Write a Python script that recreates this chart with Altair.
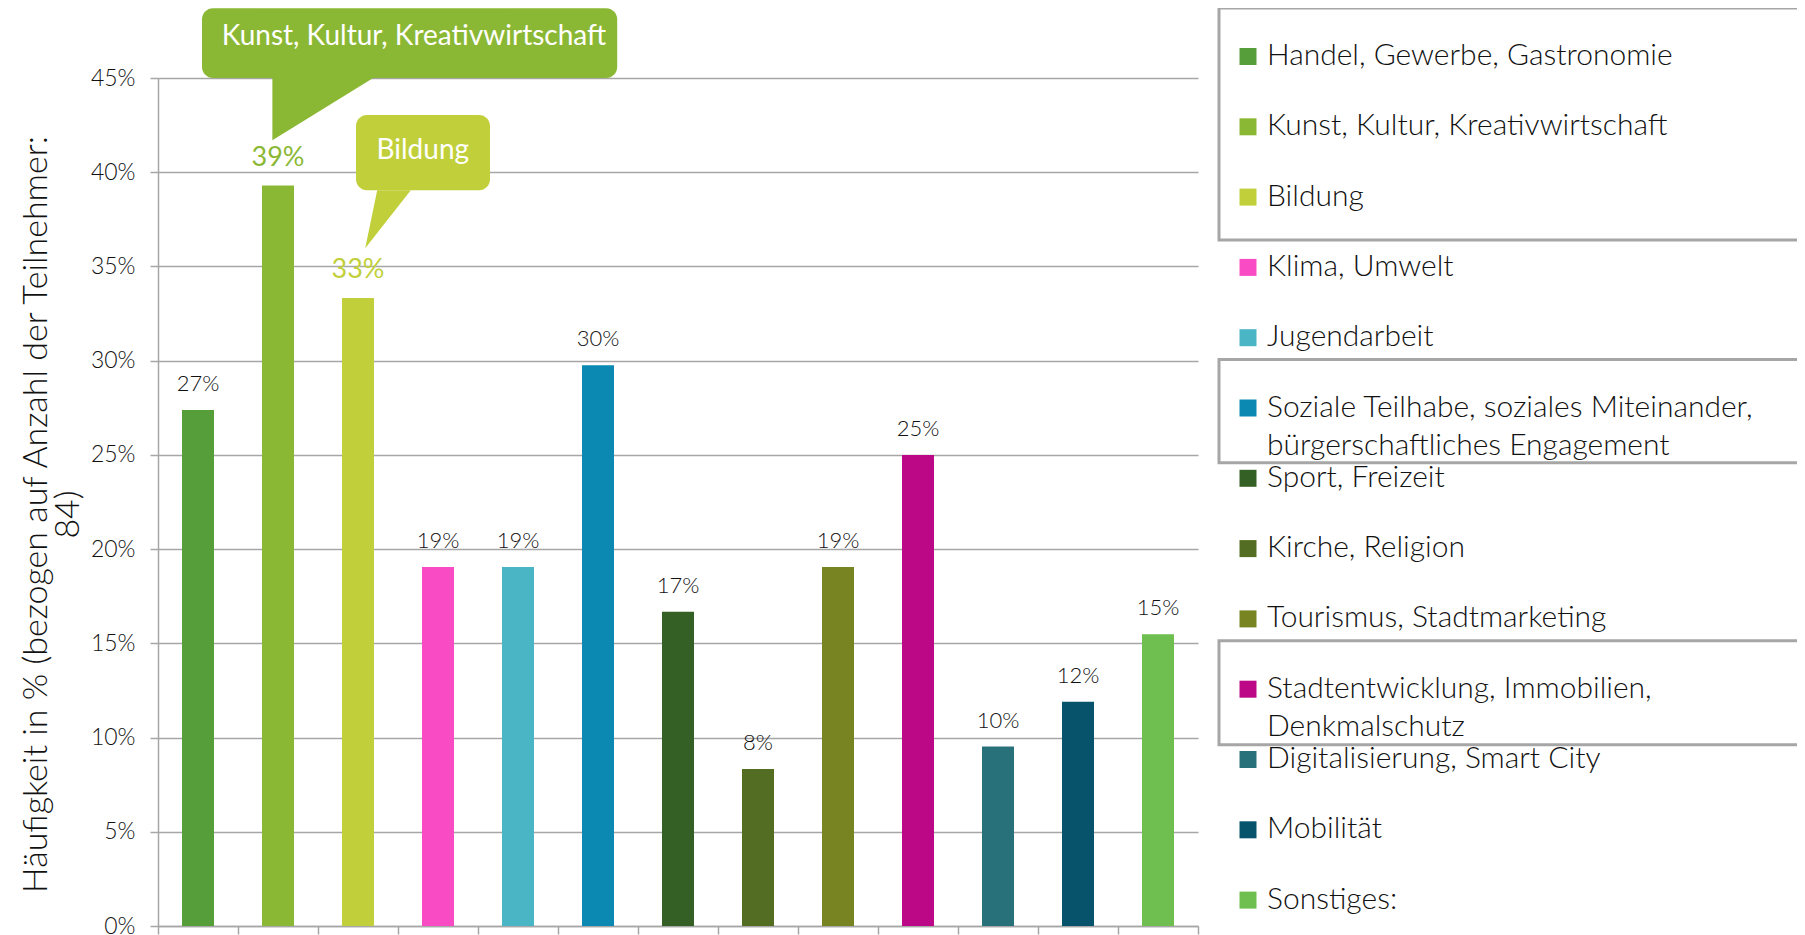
import altair as alt
import pandas as pd

# ---------------- data ----------------
categories = [
    "Handel, Gewerbe, Gastronomie",
    "Kunst, Kultur, Kreativwirtschaft",
    "Bildung",
    "Klima, Umwelt",
    "Jugendarbeit",
    "Soziale Teilhabe, soziales Miteinander, bürgerschaftliches Engagement",
    "Sport, Freizeit",
    "Kirche, Religion",
    "Tourismus, Stadtmarketing",
    "Stadtentwicklung, Immobilien, Denkmalschutz",
    "Digitalisierung, Smart City",
    "Mobilität",
    "Sonstiges:",
]
legend_labels = [
    "Handel, Gewerbe, Gastronomie",
    "Kunst, Kultur, Kreativwirtschaft",
    "Bildung",
    "Klima, Umwelt",
    "Jugendarbeit",
    "Soziale Teilhabe, soziales Miteinander,\nbürgerschaftliches Engagement",
    "Sport, Freizeit",
    "Kirche, Religion",
    "Tourismus, Stadtmarketing",
    "Stadtentwicklung, Immobilien,\nDenkmalschutz",
    "Digitalisierung, Smart City",
    "Mobilität",
    "Sonstiges:",
]
values = [27.38, 39.29, 33.33, 19.05, 19.05, 29.76, 16.67, 8.33, 19.05, 25.00, 9.52, 11.90, 15.48]
bar_colors = [
    "#559E3A", "#8BB834", "#C1D03A", "#F94CC4", "#4AB5C4", "#0B89B2", "#345F25",
    "#536E22", "#788322", "#BC0787", "#28717A", "#07536C", "#6EBE50",
]
highlighted = ["Kunst, Kultur, Kreativwirtschaft", "Bildung"]
y_title = ["Häufigkeit in % (bezogen auf Anzahl der Teilnehmer:", "84)"]
callout_texts = ["Kunst, Kultur, Kreativwirtschaft", "Bildung"]
callout_colors = ["#8BB834", "#C1D03A"]
legend_boxes_first = ["Handel, Gewerbe, Gastronomie",
                      "Soziale Teilhabe, soziales Miteinander, bürgerschaftliches Engagement",
                      "Stadtentwicklung, Immobilien, Denkmalschutz"]
legend_boxes_last = ["Bildung",
                     "Soziale Teilhabe, soziales Miteinander, bürgerschaftliches Engagement",
                     "Stadtentwicklung, Immobilien, Denkmalschutz"]

# ---------------- layout / style ----------------
FONT = "Lato"
TXT = "#111111"
GRID = "#A6A6A6"
n = len(categories)
W, H = 1040, 848

# callout geometry (x in category units, y in percent)
callout_box = {"x0": [0.55, 2.475], "x1": [5.74, 4.15], "y0": [45.0, 39.04], "y1": [48.7, 43.03],
               "tx": [3.2, 3.31], "ty": [47.15, 41.12]}
tails = [
    [(1.43, 45.0), (2.69, 45.0), (1.43, 41.7)],
    [(2.59, 35.96), (2.74, 39.04), (3.16, 39.04)],
]


def triangle_area_rows(pts, color, tid):
    """Vertical-orient area rows (x, top, bottom) for a filled triangle."""
    pts = sorted(pts)
    rows = []

    def edge_y(p, q, x):
        return p[1] + (q[1] - p[1]) * (x - p[0]) / (q[0] - p[0])

    xs = sorted(set(p[0] for p in pts))
    for x in xs:
        ys = []
        for i in range(3):
            for j in range(i + 1, 3):
                p, q = pts[i], pts[j]
                lo, hi = min(p[0], q[0]), max(p[0], q[0])
                if p[0] == q[0]:
                    if abs(p[0] - x) < 1e-9:
                        ys += [p[1], q[1]]
                elif lo - 1e-9 <= x <= hi + 1e-9:
                    ys.append(edge_y(p, q, x))
        rows.append({"x": x, "y": max(ys), "y2": min(ys), "color": color, "tid": tid})
    return rows


# ---------------- main bars ----------------
bars_df = pd.DataFrame({"cat": categories, "value": values})
bars_df["hl"] = bars_df["cat"].isin(highlighted)
bars_df["lcolor"] = [bar_colors[i] if c in highlighted else TXT for i, c in enumerate(categories)]

color_scale = alt.Scale(domain=categories, range=bar_colors)
x_band = alt.X("cat:N", sort=categories,
               scale=alt.Scale(domain=categories, paddingInner=0.6, paddingOuter=0.3),
               axis=None)
y_axis = alt.Axis(
    values=list(range(0, 50, 5)), labelExpr="datum.value + '%'",
    title=y_title, grid=True, gridColor=GRID, gridWidth=1.5,
    domain=True, domainColor=GRID, domainWidth=1.5,
    ticks=True, tickColor=GRID, tickSize=8, tickWidth=1.5,
    labelFont=FONT, labelFontSize=23, labelFontWeight=300, labelColor=TXT, labelPadding=15,
    titleFont=FONT, titleFontSize=34, titleFontWeight=300, titleColor=TXT,
    titleAngle=270, titleAlign="center", titleBaseline="middle",
    titleX=-122, titleY=H / 2 + 12, titleLineHeight=32,
)
y_pct = alt.Y("value:Q", scale=alt.Scale(domain=[0, 45], nice=False, zero=True), axis=y_axis)

bars = alt.Chart(bars_df).mark_bar().encode(
    x=x_band, y=y_pct, color=alt.Color("cat:N", scale=color_scale, legend=None)
)
label_calc = "format(datum.value, '.0f') + '%'"
labels_normal = alt.Chart(bars_df).transform_filter("!datum.hl").transform_calculate(
    label=label_calc
).mark_text(baseline="alphabetic", dy=-19, font=FONT, fontWeight=300, fontSize=22, color=TXT).encode(
    x=x_band, y=alt.Y("value:Q"), text="label:N"
)
labels_hl = alt.Chart(bars_df).transform_filter("datum.hl").transform_calculate(
    label=label_calc
).mark_text(baseline="alphabetic", dy=-20, font=FONT, fontWeight=400, fontSize=27).encode(
    x=x_band, y=alt.Y("value:Q"), text="label:N", color=alt.Color("lcolor:N", scale=None)
)
main_layer = alt.layer(bars, labels_normal, labels_hl)

# ---------------- callouts + category tick axis ----------------
cb = pd.DataFrame(callout_box)
cb["text"] = callout_texts
cb["color"] = callout_colors
xq_scale = alt.Scale(domain=[0, n], nice=False, zero=False)
yq_scale = alt.Scale(domain=[0, 45], nice=False, zero=True)
x_tick_axis = alt.Axis(values=list(range(n + 1)), labels=False, ticks=True, tickSize=8, tickWidth=1.5,
                       tickColor=GRID, domain=True, domainColor=GRID, domainWidth=1.5, grid=False, title=None)
boxes = alt.Chart(cb).mark_rect(cornerRadius=11).encode(
    x=alt.X("x0:Q", scale=xq_scale, axis=x_tick_axis), x2="x1:Q",
    y=alt.Y("y0:Q", scale=yq_scale, axis=None), y2="y1:Q",
    color=alt.Color("color:N", scale=None),
)
tail_rows = []
for i, t in enumerate(tails):
    tail_rows += triangle_area_rows(t, callout_colors[i], i)
tails_chart = alt.Chart(pd.DataFrame(tail_rows)).mark_area(orient="vertical", interpolate="linear").encode(
    x=alt.X("x:Q", scale=xq_scale), y=alt.Y("y:Q", scale=yq_scale), y2="y2:Q",
    color=alt.Color("color:N", scale=None), detail="tid:N",
)
callout_text = alt.Chart(cb).mark_text(font=FONT, fontSize=28, fontWeight=400, color="white",
                                       baseline="middle", align="center").encode(
    x=alt.X("tx:Q", scale=xq_scale), y=alt.Y("ty:Q", scale=yq_scale), text="text:N"
)
annot_layer = alt.layer(boxes, tails_chart, callout_text)

# ---------------- custom legend ----------------
leg_df = pd.DataFrame({"cat": categories, "idx": list(range(n)), "text": legend_labels})
ly_scale = alt.Scale(domain=[0, n - 1], range=[-21.5, 822.1], nice=False, zero=False)
leg_sq = alt.Chart(leg_df).mark_square(size=289, opacity=1).encode(
    x=alt.value(1090), y=alt.Y("idx:Q", scale=ly_scale, axis=None),
    color=alt.Color("cat:N", scale=color_scale, legend=None),
)
leg_txt = alt.Chart(leg_df).mark_text(align="left", baseline="alphabetic", dy=8.5, lineBreak="\n",
                                      lineHeight=38, font=FONT, fontWeight=300, fontSize=30,
                                      color=TXT).encode(
    x=alt.value(1109), y=alt.Y("idx:Q", scale=ly_scale, axis=None), text="text:N"
)
box_df = pd.DataFrame({
    "i0": [categories.index(c) for c in legend_boxes_first],
    "i1": [categories.index(c) for c in legend_boxes_last],
})
box_df["y0"] = box_df["i0"] - 0.69
box_df["y1"] = box_df["i1"] + [0.61, 0.78, 0.79]
leg_box = alt.Chart(box_df).mark_rect(fillOpacity=0, stroke=GRID, strokeWidth=3).encode(
    x=alt.value(1061), x2=alt.value(1680),
    y=alt.Y("y0:Q", scale=ly_scale, axis=None), y2="y1:Q",
)
legend_layer = alt.layer(leg_box, leg_sq, leg_txt)

chart = alt.layer(main_layer, annot_layer, legend_layer).resolve_scale(
    x="independent", y="independent"
).properties(
    width=W, height=H,
    padding={"left": 150, "top": 70, "right": 599, "bottom": 10},
    autosize=alt.AutoSizeParams(type="none"),
).configure_view(strokeWidth=0)

chart.save("out.html", embed_options={"renderer": "svg", "actions": False})
